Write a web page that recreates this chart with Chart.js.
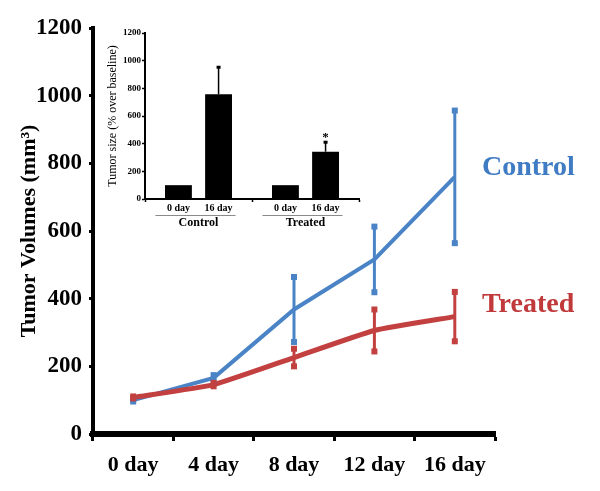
<!DOCTYPE html>
<html>
<head>
<meta charset="utf-8">
<script src="https://cdn.jsdelivr.net/npm/chart.js@4.4.1/dist/chart.umd.min.js"></script>
<style>
  body { margin: 0; background: #fff; }
  #wrap { position: relative; width: 600px; height: 491px; }
  #main { position: absolute; left: 0; top: 0; }
  #inset { position: absolute; left: 100px; top: 20px; }
</style>
</head>
<body>
<div id="wrap">
  <canvas id="main" width="600" height="491"></canvas>
  <canvas id="inset" width="265" height="210"></canvas>
</div>
<script>
// main chart data
var days = ['0 day', '4 day', '8 day', '12 day', '16 day'];
var controlVals = [100, 166, 368, 516, 760];
var controlErr = [4, 8, 96, 97, 196];
var treatedVals = [108, 146, 226, 306, 347];
var treatedErr = [3, 5, 26, 62, 73];

// inset bar data
var insetGroups = ['Control', 'Treated'];
var insetDay0 = [100, 100];
var insetDay16 = [757, 342];
var insetDay16Err = [199, 72];

var serif = "'Liberation Serif', 'Times New Roman', serif";
var blue = '#4a84c6';
var red = '#c2403f';

function plainNum(v) { return String(v); }

var errorBars = {
  id: 'errorBars',
  afterDatasetsDraw: function (chart) {
    var ctx = chart.ctx;
    var y = chart.scales.y;
    var errs = [controlErr, treatedErr];
    ctx.save();
    for (var i = 0; i < chart.data.datasets.length; i++) {
      var ds = chart.data.datasets[i];
      var meta = chart.getDatasetMeta(i);
      for (var j = 0; j < meta.data.length; j++) {
        var x = meta.data[j].x;
        var top = y.getPixelForValue(ds.data[j] + errs[i][j]);
        var bot = y.getPixelForValue(ds.data[j] - errs[i][j]);
        ctx.strokeStyle = ds.borderColor;
        ctx.fillStyle = ds.borderColor;
        ctx.lineWidth = 3;
        ctx.beginPath();
        ctx.moveTo(x, top);
        ctx.lineTo(x, bot);
        ctx.stroke();
        ctx.fillRect(x - 3, top - 3, 6, 6);
        ctx.fillRect(x - 3, bot - 3, 6, 6);
      }
    }
    // series names
    ctx.font = 'bold 28px ' + serif;
    ctx.textBaseline = 'middle';
    ctx.textAlign = 'left';
    ctx.fillStyle = '#3f7cc4';
    ctx.fillText('Control', 482, 168);
    ctx.fillStyle = '#c0393b';
    ctx.fillText('Treated', 482, 305);
    ctx.restore();
  }
};

var ctx = document.getElementById('main').getContext('2d');
var chart = new Chart(ctx, {
  type: 'line',
  data: {
    labels: days,
    datasets: [{
      label: 'Control',
      data: controlVals,
      borderColor: blue,
      borderWidth: 4,
      pointRadius: 0,
      tension: 0,
      order: 1
    },
    {
      label: 'Treated',
      data: treatedVals,
      borderColor: red,
      borderWidth: 5,
      pointRadius: 0,
      tension: 0.15,
      order: 0
    }]
  },
  options: {
    responsive: false,
    animation: false,
    layout: { padding: { left: 0, top: 28, right: 105, bottom: 0 } },
    plugins: { legend: { display: false }, tooltip: { enabled: false } },
    scales: {
      x: {
        offset: true,
        grid: { offset: true, drawOnChartArea: false, tickLength: 7, tickWidth: 3, tickColor: '#000' },
        border: { color: '#000', width: 6 },
        ticks: { color: '#000', padding: 11, font: { family: serif, size: 22, weight: 'bold' } },
        afterFit: function (s) { s.height = 57; }
      },
      y: {
        min: 0,
        max: 1200,
        ticks: { stepSize: 200, callback: plainNum, color: '#000', padding: 7, font: { family: serif, size: 23, weight: 'bold' } },
        grid: { drawOnChartArea: false, tickLength: 4, tickWidth: 3, tickColor: '#000' },
        border: { color: '#000', width: 4 },
        title: {
          display: true,
          text: 'Tumor Volumes (mm\u00b3)',
          color: '#000',
          padding: { top: 16, bottom: 0 },
          font: { family: serif, size: 22, weight: 'bold' }
        },
        afterFit: function (s) { s.width = 93; }
      }
    }
  },
  plugins: [errorBars]
});

// inset: sub labels, brackets, error bars
var insetExtras = {
  id: 'insetExtras',
  afterDatasetsDraw: function (chart) {
    var ctx = chart.ctx;
    var y = chart.scales.y;
    var bottom = chart.chartArea.bottom;
    var m0 = chart.getDatasetMeta(0);
    var m16 = chart.getDatasetMeta(1);
    ctx.save();
    ctx.strokeStyle = '#000';
    ctx.fillStyle = '#000';
    ctx.lineWidth = 1.5;
    for (var j = 0; j < m16.data.length; j++) {
      var bar = m16.data[j];
      var top = y.getPixelForValue(insetDay16[j] + insetDay16Err[j]);
      ctx.beginPath();
      ctx.moveTo(bar.x, bar.y);
      ctx.lineTo(bar.x, top);
      ctx.stroke();
      ctx.fillRect(bar.x - 2, top - 1, 4, 3);
    }
    // significance mark
    ctx.font = 'bold 13px ' + serif;
    ctx.textAlign = 'center';
    ctx.textBaseline = 'middle';
    ctx.fillText('*', m16.data[1].x, y.getPixelForValue(insetDay16[1] + insetDay16Err[1]) - 4);
    // day labels under bars
    ctx.font = 'bold 10px ' + serif;
    for (var k = 0; k < insetGroups.length; k++) {
      ctx.fillText('0 day', m0.data[k].x, bottom + 9);
      ctx.fillText('16 day', m16.data[k].x, bottom + 9);
      ctx.strokeStyle = '#8a8a8a';
      ctx.lineWidth = 1;
      ctx.beginPath();
      ctx.moveTo(m0.data[k].x - 23, bottom + 16.5);
      ctx.lineTo(m16.data[k].x + 17, bottom + 16.5);
      ctx.stroke();
    }
    ctx.restore();
  }
};

var inset = new Chart(document.getElementById('inset').getContext('2d'), {
  type: 'bar',
  data: {
    labels: insetGroups,
    datasets: [
      { label: '0 day', data: insetDay0, backgroundColor: '#000', categoryPercentage: 0.75, barPercentage: 0.67 },
      { label: '16 day', data: insetDay16, backgroundColor: '#000', categoryPercentage: 0.75, barPercentage: 0.67 }
    ]
  },
  options: {
    responsive: false,
    animation: false,
    layout: { padding: { left: 0, top: 13, right: 6, bottom: 0 } },
    plugins: { legend: { display: false }, tooltip: { enabled: false } },
    scales: {
      x: {
        grid: { offset: true, drawOnChartArea: false, tickLength: 3, tickWidth: 1.5, tickColor: '#000' },
        border: { color: '#000', width: 2 },
        ticks: { color: '#000', padding: 14, font: { family: serif, size: 12, weight: 'bold' } },
        afterFit: function (s) { s.height = 31; }
      },
      y: {
        min: 0,
        max: 1200,
        ticks: { stepSize: 200, callback: plainNum, color: '#000', padding: 1, font: { family: serif, size: 9, weight: 'bold' } },
        grid: { drawOnChartArea: false, tickLength: 3, tickWidth: 1.5, tickColor: '#000' },
        border: { color: '#000', width: 2 },
        title: {
          display: true,
          text: 'Tumor size (% over baseline)',
          color: '#000',
          padding: { top: 6, bottom: 0 },
          font: { family: serif, size: 12 }
        },
        afterFit: function (s) { s.width = 45; }
      }
    }
  },
  plugins: [insetExtras]
});
</script>
</body>
</html>
